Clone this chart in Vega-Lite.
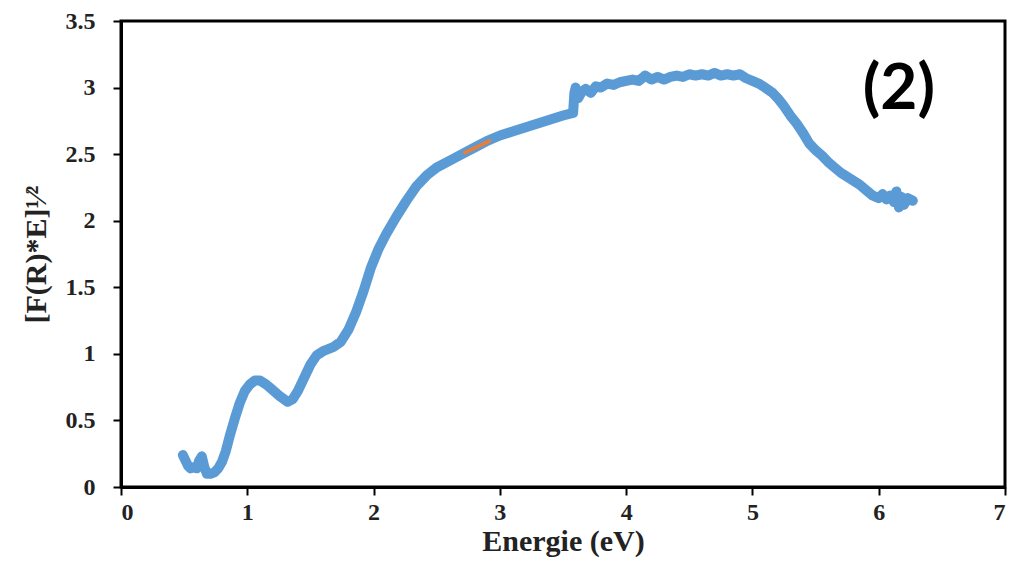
{
  "$schema": "https://vega.github.io/schema/vega-lite/v6.json",
  "width": 884,
  "height": 466,
  "autosize": {"type": "none"},
  "padding": {"left": 121, "top": 21, "right": 16, "bottom": 85},
  "background": "white",
  "config": {
    "view": {"stroke": "black", "strokeWidth": 3},
    "axis": {
      "domainColor": "black", "domainWidth": 3, "tickColor": "black", "tickWidth": 2, "tickSize": 8,
      "grid": false, "labelFont": "Liberation Serif", "labelFontWeight": "bold", "labelFontSize": 24,
      "labelColor": "#222", "titleFont": "Liberation Serif", "titleFontWeight": "bold", "titleFontSize": 30, "titleColor": "#222"
    }
  },
  "datasets": {
    "curve": [
      {"e": 0.49, "v": 0.24}, {"e": 0.51, "v": 0.20}, {"e": 0.53, "v": 0.16}, {"e": 0.55, "v": 0.14},
      {"e": 0.58, "v": 0.15}, {"e": 0.60, "v": 0.14}, {"e": 0.62, "v": 0.20}, {"e": 0.64, "v": 0.23},
      {"e": 0.66, "v": 0.15}, {"e": 0.68, "v": 0.10}, {"e": 0.71, "v": 0.10}, {"e": 0.74, "v": 0.11},
      {"e": 0.77, "v": 0.14}, {"e": 0.80, "v": 0.19}, {"e": 0.83, "v": 0.27}, {"e": 0.86, "v": 0.38},
      {"e": 0.90, "v": 0.51}, {"e": 0.94, "v": 0.63}, {"e": 0.98, "v": 0.72}, {"e": 1.02, "v": 0.77},
      {"e": 1.06, "v": 0.80}, {"e": 1.10, "v": 0.80}, {"e": 1.15, "v": 0.77}, {"e": 1.20, "v": 0.73},
      {"e": 1.26, "v": 0.68}, {"e": 1.32, "v": 0.64}, {"e": 1.36, "v": 0.66}, {"e": 1.40, "v": 0.72},
      {"e": 1.45, "v": 0.82}, {"e": 1.50, "v": 0.92}, {"e": 1.55, "v": 0.99}, {"e": 1.60, "v": 1.02},
      {"e": 1.68, "v": 1.05}, {"e": 1.74, "v": 1.09}, {"e": 1.80, "v": 1.18}, {"e": 1.86, "v": 1.31},
      {"e": 1.92, "v": 1.47}, {"e": 1.98, "v": 1.65}, {"e": 2.04, "v": 1.79}, {"e": 2.10, "v": 1.90},
      {"e": 2.18, "v": 2.03}, {"e": 2.26, "v": 2.15}, {"e": 2.34, "v": 2.26}, {"e": 2.42, "v": 2.34},
      {"e": 2.50, "v": 2.40}, {"e": 2.60, "v": 2.45}, {"e": 2.70, "v": 2.50}, {"e": 2.80, "v": 2.55},
      {"e": 2.90, "v": 2.60}, {"e": 3.00, "v": 2.64}, {"e": 3.10, "v": 2.67}, {"e": 3.20, "v": 2.70},
      {"e": 3.30, "v": 2.73}, {"e": 3.40, "v": 2.76}, {"e": 3.50, "v": 2.79}, {"e": 3.58, "v": 2.81},
      {"e": 3.59, "v": 2.96}, {"e": 3.60, "v": 3.00}, {"e": 3.62, "v": 2.92}, {"e": 3.65, "v": 2.97},
      {"e": 3.68, "v": 2.99}, {"e": 3.72, "v": 2.96}, {"e": 3.76, "v": 3.01}, {"e": 3.80, "v": 3.00},
      {"e": 3.85, "v": 3.03}, {"e": 3.90, "v": 3.02}, {"e": 3.95, "v": 3.04}, {"e": 4.00, "v": 3.05},
      {"e": 4.05, "v": 3.06}, {"e": 4.10, "v": 3.05}, {"e": 4.15, "v": 3.09}, {"e": 4.20, "v": 3.06},
      {"e": 4.25, "v": 3.08}, {"e": 4.30, "v": 3.06}, {"e": 4.35, "v": 3.08}, {"e": 4.40, "v": 3.09},
      {"e": 4.45, "v": 3.08}, {"e": 4.50, "v": 3.10}, {"e": 4.55, "v": 3.09}, {"e": 4.60, "v": 3.10},
      {"e": 4.65, "v": 3.09}, {"e": 4.70, "v": 3.11}, {"e": 4.75, "v": 3.09}, {"e": 4.80, "v": 3.10},
      {"e": 4.85, "v": 3.09}, {"e": 4.90, "v": 3.10}, {"e": 4.95, "v": 3.07}, {"e": 5.00, "v": 3.05},
      {"e": 5.05, "v": 3.03}, {"e": 5.10, "v": 3.00}, {"e": 5.16, "v": 2.96}, {"e": 5.20, "v": 2.92},
      {"e": 5.25, "v": 2.86}, {"e": 5.30, "v": 2.79}, {"e": 5.35, "v": 2.73}, {"e": 5.40, "v": 2.66},
      {"e": 5.45, "v": 2.58}, {"e": 5.50, "v": 2.53}, {"e": 5.55, "v": 2.49}, {"e": 5.60, "v": 2.44},
      {"e": 5.65, "v": 2.40}, {"e": 5.70, "v": 2.36}, {"e": 5.75, "v": 2.33}, {"e": 5.80, "v": 2.30},
      {"e": 5.85, "v": 2.27}, {"e": 5.90, "v": 2.23}, {"e": 5.95, "v": 2.19}, {"e": 6.00, "v": 2.17},
      {"e": 6.03, "v": 2.20}, {"e": 6.06, "v": 2.16}, {"e": 6.09, "v": 2.19}, {"e": 6.12, "v": 2.14},
      {"e": 6.14, "v": 2.22}, {"e": 6.16, "v": 2.10}, {"e": 6.18, "v": 2.18}, {"e": 6.20, "v": 2.12},
      {"e": 6.23, "v": 2.17}, {"e": 6.27, "v": 2.15}
    ],
    "fit": [
      {"e": 2.72, "v": 2.51}, {"e": 2.82, "v": 2.555}, {"e": 2.92, "v": 2.60}
    ],
    "label": [{"e": 6.16, "v": 2.98, "t": "(2)"}]
  },
  "layer": [
    {
      "data": {"name": "curve"},
      "mark": {"type": "line", "color": "#5B9BD5", "strokeWidth": 10, "strokeCap": "round", "strokeJoin": "round"},
      "encoding": {
        "x": {"field": "e", "type": "quantitative", "scale": {"domain": [0, 7], "nice": false},
          "axis": {"values": [0, 1, 2, 3, 4, 5, 6, 7], "format": "d", "labelPadding": 5, "title": "Energie (eV)", "titlePadding": 2}},
        "y": {"field": "v", "type": "quantitative", "scale": {"domain": [0, 3.5], "nice": false},
          "axis": {"values": [0, 0.5, 1, 1.5, 2, 2.5, 3, 3.5], "format": ".1~f", "labelPadding": 18, "title": "[F(R)*E]¹⁄²", "titlePadding": 14}}
      }
    },
    {
      "data": {"name": "fit"},
      "mark": {"type": "line", "color": "#ED7D31", "strokeWidth": 3.5, "strokeCap": "round"},
      "encoding": {
        "x": {"field": "e", "type": "quantitative"},
        "y": {"field": "v", "type": "quantitative"}
      }
    },
    {
      "data": {"name": "label"},
      "mark": {"type": "text", "font": "Lato", "fontWeight": "bold", "fontSize": 64, "color": "black", "align": "center", "baseline": "middle"},
      "encoding": {
        "x": {"field": "e", "type": "quantitative"},
        "y": {"field": "v", "type": "quantitative"},
        "text": {"field": "t"}
      }
    }
  ]
}
